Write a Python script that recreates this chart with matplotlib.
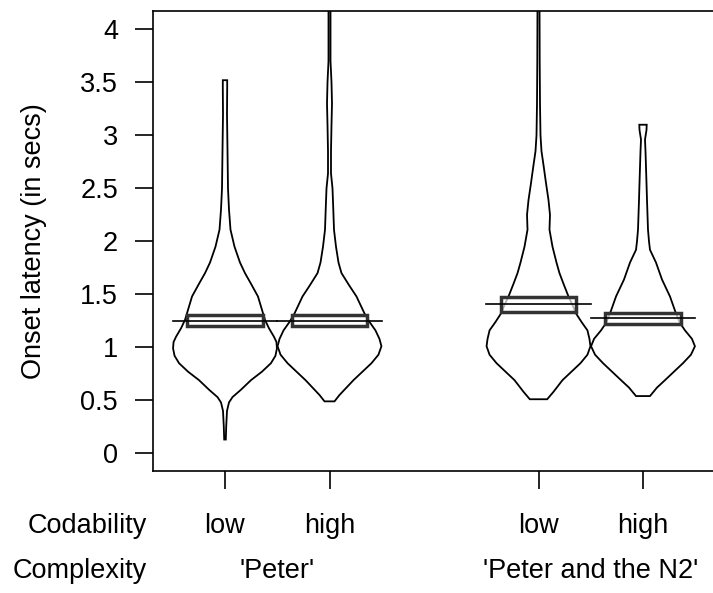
import numpy as np
import matplotlib.pyplot as plt
from matplotlib.patches import Rectangle
from matplotlib.transforms import blended_transform_factory

plt.rcParams['font.family'] = ['Liberation Sans', 'DejaVu Sans']

# conditions
positions = [1, 2, 4, 5]
codability = ['low', 'high', 'low', 'high']
complexity = ["'Peter'", "'Peter and the N2'"]
group_centres = [1.5, 4.5]

# means and interval (box) per bean
means = [1.25, 1.245, 1.405, 1.273]
ci_low = [1.20, 1.20, 1.335, 1.22]
ci_high = [1.305, 1.305, 1.47, 1.32]

# density outlines (latency, relative density)
lat_1 = [0.13, 0.25, 0.40, 0.48, 0.53, 0.60, 0.69, 0.77, 0.85, 0.92, 0.99, 1.05, 1.10, 1.18,
         1.26, 1.37, 1.48, 1.60, 1.70, 1.80, 1.95, 2.11, 2.30, 2.50, 2.86, 3.20, 3.45, 3.52]
dens_1 = [0.8, 1.2, 2, 4, 7.5, 16, 26, 37, 46, 50.5, 52, 51.5, 49, 44,
          40, 36.5, 33, 26, 20, 15, 9.5, 5.5, 4, 3, 2.5, 2, 2.2, 2.2]

lat_2 = [0.49, 0.55, 0.62, 0.69, 0.77, 0.85, 0.93, 1.01, 1.08, 1.16, 1.24, 1.32, 1.40, 1.48,
         1.58, 1.70, 1.80, 1.95, 2.11, 2.30, 2.50, 2.64, 2.85, 3.10, 3.30, 3.50, 3.70, 4.00, 4.30]
dens_2 = [5, 10, 17, 24, 33, 42, 49, 52, 50, 46, 40, 35, 31, 27,
          20, 12, 9, 6.5, 4.5, 3.8, 3, 1.5, 1.5, 2, 2.5, 2, 1, 1, 1]

lat_3 = [0.51, 0.58, 0.69, 0.77, 0.85, 0.93, 1.01, 1.08, 1.16, 1.24, 1.32, 1.40, 1.48, 1.60,
         1.70, 1.80, 1.95, 2.11, 2.25, 2.39, 2.55, 2.70, 2.85, 3.00, 3.30, 3.70, 4.30]
dens_3 = [8.7, 15, 24, 33, 42, 49, 52, 51, 49, 43, 37.5, 34, 30, 25,
          21, 18, 14, 11, 11.5, 10, 7.5, 5.3, 3, 2, 1.5, 1.2, 1]

lat_4 = [0.54, 0.62, 0.69, 0.77, 0.85, 0.93, 1.01, 1.08, 1.16, 1.23, 1.32, 1.40, 1.48, 1.56,
         1.64, 1.72, 1.80, 1.92, 2.00, 2.11, 2.25, 2.39, 2.55, 2.70, 2.85, 2.96, 3.05, 3.10]
dens_4 = [7, 14, 22, 31, 40, 48, 52, 49, 42, 37, 33, 30, 27, 23,
          19, 16, 13, 7, 6, 5, 4.5, 4, 3.5, 3, 2.5, 2, 3.5, 3.7]

beans = [(lat_1, dens_1), (lat_2, dens_2), (lat_3, dens_3), (lat_4, dens_4)]

fs = 19.5
fig = plt.figure(figsize=(7.13, 5.93), dpi=100)
ax = fig.add_axes([152.5 / 713, 122 / 593, (722 - 152.5) / 713, 460 / 593])

bean_w = 0.497
box_w = 0.359
for pos, (lat, dens), m, lo, hi in zip(positions, beans, means, ci_low, ci_high):
    lat = np.array(lat)
    d = np.array(dens) / max(dens) * bean_w
    xs = np.concatenate([pos - d, (pos + d)[::-1]])
    ys = np.concatenate([lat, lat[::-1]])
    ax.fill(xs, ys, facecolor='white', edgecolor='black', lw=1.3, zorder=2)
    ax.add_patch(Rectangle((pos - box_w, lo), 2 * box_w, hi - lo,
                           facecolor=(1, 1, 1, 0.7), edgecolor='#333333', lw=2.5, zorder=3))
    ax.plot([pos - 0.5, pos + 0.5], [m, m], color='black', lw=1.2, zorder=4)

ax.set_xlim(1 - 72.5 / 104.5, 5 + 79 / 104.5)
ax.set_ylim(-0.167, 4.173)
ax.set_yticks([0, 0.5, 1, 1.5, 2, 2.5, 3, 3.5, 4])
ax.set_yticklabels(['0', '0.5', '1', '1.5', '2', '2.5', '3', '3.5', '4'])
ax.set_xticks(positions)
ax.set_xticklabels([])
ax.tick_params(direction='out', length=13.3, width=1.2, labelsize=fs, pad=11.5)
for s in ax.spines.values():
    s.set_linewidth(1.2)
ax.set_ylabel('Onset latency (in secs)', fontsize=fs)
ax.yaxis.set_label_coords(-0.185, 0.5)

tr = blended_transform_factory(ax.transData, fig.transFigure)
for pos, lab in zip(positions, codability):
    ax.text(pos, 1 - 533 / 593, lab, transform=tr, ha='center', va='baseline', fontsize=fs)
for pos, lab in zip(group_centres, complexity):
    ax.text(pos, 1 - 578 / 593, lab, transform=tr, ha='center', va='baseline', fontsize=fs)
fig.text(147 / 713, 1 - 533 / 593, 'Codability', ha='right', va='baseline', fontsize=fs)
fig.text(147 / 713, 1 - 578 / 593, 'Complexity', ha='right', va='baseline', fontsize=fs)

fig.savefig('out.png', dpi=100)
